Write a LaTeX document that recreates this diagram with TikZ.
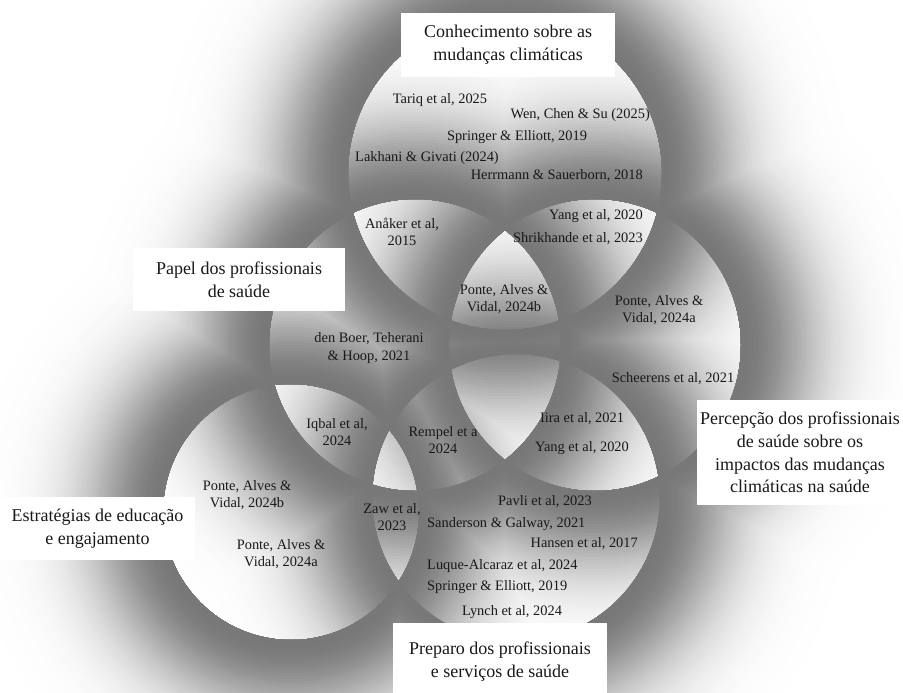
\documentclass[tikz,border=0pt]{standalone}
\usepackage{fontspec}
\setmainfont{Liberation Serif}
\begin{document}
\begin{tikzpicture}[x=1bp,y=-1bp,
  cite/.style={inner sep=0pt, align=center, font=\fontsize{14.4bp}{17.7bp}\selectfont, text=black!90},
  ttl/.style={inner sep=0pt, align=center, font=\fontsize{18bp}{22.8bp}\selectfont, text=black!90, fill=white}]
\useasboundingbox (0,0) rectangle (903,693);
\fill[white] (0,0) rectangle (903,693);
\def\circles{505/173/157, 415/345/146, 595/345/146, 291/512/128, 516/498/144}
% soft shadow outside each circle: levels painted from lightest to darkest,
% so that at every point the darkest shadow wins
\foreach \j in {62,...,1}{
  \pgfmathsetmacro\bk{53*exp(-((((\j-0.5)*3/80))^2))}
  \pgfmathsetmacro\D{\j*3}
  \foreach \cx/\cy/\r in \circles {
    \pgfmathsetmacro\R{\r+\D}
    \fill[black!\bk, even odd rule] (\cx,\cy) circle[radius=\R] (\cx,\cy) circle[radius=\r];
  }
}
% title boxes
\node[ttl, minimum width=214bp, minimum height=64bp] (tT) at (508,45) {Conhecimento sobre as\\mudanças climáticas};
\node[ttl, minimum width=212bp, minimum height=63bp] (tL) at (239,279.5) {Papel dos profissionais\\de saúde};
\node[ttl, minimum width=195bp, minimum height=63bp] (tBL) at (97.5,528.5) {Estratégias de educação\\e engajamento};
\node[ttl, minimum width=206bp, minimum height=105bp] (tR) at (800,452.5) {Percepção dos profissionais\\de saúde sobre os\\impactos das mudanças\\climáticas na saúde};
\node[ttl, minimum width=214bp, minimum height=77bp] (tBR) at (500,661.5) {Preparo dos profissionais\\e serviços de saúde};
% citations
\node[cite] (c1) at (440,100) {Tariq et al, 2025};
\node[cite, anchor=east] (c2) at (650,115) {Wen, Chen \& Su (2025)};
\node[cite] (c3) at (517,137) {Springer \& Elliott, 2019};
\node[cite, anchor=west] (c4) at (355,158) {Lakhani \& Givati (2024)};
\node[cite, anchor=east] (c5) at (643,176) {Herrmann \& Sauerborn, 2018};
\node[cite] (c6) at (402,232) {Anåker et al,\\2015};
\node[cite, anchor=east] (c7) at (643,216) {Yang et al, 2020};
\node[cite, anchor=east] (c8) at (643,239) {Shrikhande et al, 2023};
\node[cite] (c9) at (504,299) {Ponte, Alves \&\\Vidal, 2024b};
\node[cite] (c10) at (659,310) {Ponte, Alves \&\\Vidal, 2024a};
\node[cite] (c11) at (369,348) {den Boer, Teherani\\\& Hoop, 2021};
\node[cite] (c12) at (673,379) {Scheerens et al, 2021};
\node[cite] (c13) at (337,432) {Iqbal et al,\\2024};
\node[cite] (c14) at (443,440) {Rempel et a\\2024};
\node[cite] (c15) at (582,419) {Iira et al, 2021};
\node[cite] (c16) at (582,448) {Yang et al, 2020};
\node[cite] (c17) at (392,517) {Zaw et al,\\2023};
\node[cite] (c18) at (545,502) {Pavli et al, 2023};
\node[cite, anchor=west] (c19) at (427,524) {Sanderson \& Galway, 2021};
\node[cite, anchor=east] (c20) at (638,544) {Hansen et al, 2017};
\node[cite, anchor=west] (c21) at (427,566) {Luque-Alcaraz et al, 2024};
\node[cite, anchor=west] (c22) at (427,587) {Springer \& Elliott, 2019};
\node[cite] (c23) at (512,612) {Lynch et al, 2024};
\node[cite] (c24) at (247,495) {Ponte, Alves \&\\Vidal, 2024b};
\node[cite] (c25) at (281,554) {Ponte, Alves \&\\Vidal, 2024a};
\end{tikzpicture}
\end{document}
